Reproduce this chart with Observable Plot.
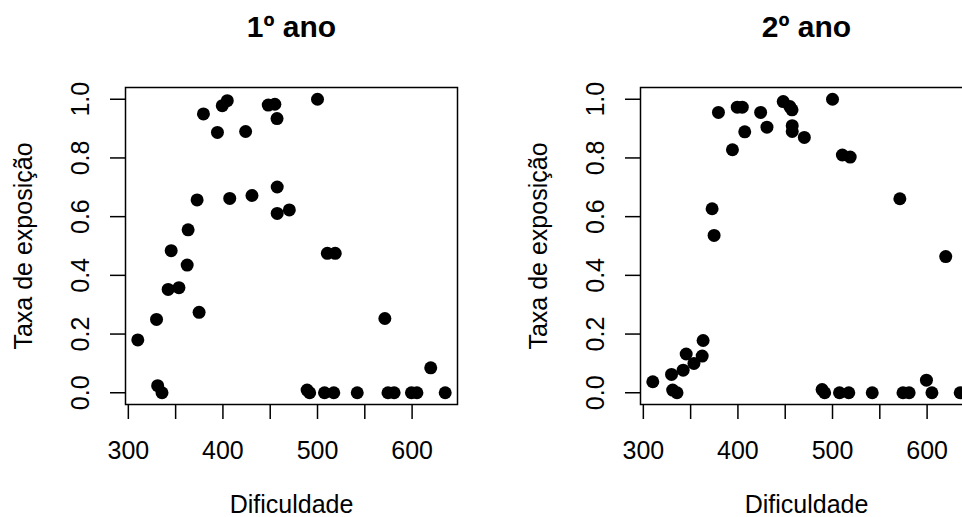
<!DOCTYPE html>
<html>
<head>
<meta charset="utf-8">
<script src="https://cdn.jsdelivr.net/npm/d3@7"></script>
<script src="https://cdn.jsdelivr.net/npm/@observablehq/plot@0.6"></script>
<style>
  html, body { margin: 0; padding: 0; background: #fff; overflow: hidden; }
  #wrap { position: relative; width: 1030px; height: 517px; }
  #wrap svg { position: absolute; top: 0; }
</style>
</head>
<body>
<div id="wrap"></div>
<script>
// Item difficulty (shared by both panels)
const difficulty = [310, 329.8, 331, 335.6, 342.1, 345.3, 353.5, 362.2, 363.2, 372.7,
  374.8, 379.4, 394.2, 399.3, 404.6, 407.2, 424, 430.7, 447.9, 454.9,
  457.2, 457.4, 457.4, 470.2, 489, 491.7, 500, 507.4, 510.4, 517.2,
  518.7, 542, 571.2, 574.5, 581, 599.3, 605.1, 619.7, 635];
// Exposure rate, 1º ano
const rate1 = [0.18, 0.25, 0.024, 0, 0.352, 0.484, 0.358, 0.435, 0.555, 0.657,
  0.274, 0.95, 0.887, 0.978, 0.995, 0.662, 0.89, 0.672, 0.98, 0.983,
  0.934, 0.701, 0.611, 0.623, 0.009, 0, 1.0, 0, 0.475, 0,
  0.475, 0, 0.253, 0, 0, 0, 0, 0.085, 0];
// Exposure rate, 2º ano
const rate2 = [0.0375, 0.0625, 0.009, 0, 0.077, 0.132, 0.1, 0.125, 0.178, 0.627,
  0.536, 0.955, 0.828, 0.973, 0.973, 0.889, 0.955, 0.905, 0.992, 0.975,
  0.964, 0.91, 0.89, 0.87, 0.011, 0, 1.0, 0, 0.81, 0,
  0.803, 0, 0.661, 0, 0, 0.043, 0, 0.464, 0];

const panelTitles = ["1º ano", "2º ano"];
const xLabel = "Dificuldade";
const yLabel = "Taxa de exposição";
const xTicks = [300, 350, 400, 450, 500, 550, 600];
const yTicks = [0, 0.2, 0.4, 0.6, 0.8, 1.0];

function rRange(values) {
  const [a, b] = d3.extent(values);
  const p = (b - a) * 0.04;
  return [a - p, b + p];
}

function panel(title, rates) {
  const data = difficulty.map((d, i) => ({d, r: rates[i]}));
  return Plot.plot({
    width: 515,
    height: 517,
    marginLeft: 125,
    marginRight: 58,
    marginTop: 87,
    marginBottom: 113,
    x: {domain: rRange(difficulty)},
    y: {domain: rRange(rates)},
    style: {fontFamily: "'Liberation Sans', Arial, Helvetica, sans-serif", fontSize: "25px", color: "black", background: "white", overflow: "visible"},
    marks: [
      Plot.axisX({ticks: xTicks, tickSize: 15, tickPadding: 21.5, tickFormat: d => d % 100 === 0 ? String(d) : "", strokeWidth: 1.5, label: null}),
      Plot.axisY({ticks: yTicks, tickSize: 15, tickPadding: 21.5, tickRotate: -90, tickFormat: d => d.toFixed(1), strokeWidth: 1.5, label: null}),
      Plot.frame({stroke: "black", strokeWidth: 1.5}),
      Plot.dot(data, {x: "d", y: "r", r: 6.5, fill: "black"}),
      Plot.text([title], {frameAnchor: "top", lineAnchor: "bottom", dy: -50.5, fontWeight: "bold", fontSize: 30}),
      Plot.text([xLabel], {frameAnchor: "bottom", lineAnchor: "bottom", dy: 108}),
      Plot.text([yLabel], {frameAnchor: "left", rotate: -90, textAnchor: "middle", lineAnchor: "bottom", dx: -94})
    ]
  });
}

const wrap = document.getElementById("wrap");
const p1 = panel(panelTitles[0], rate1);
p1.style.left = "0px";
const p2 = panel(panelTitles[1], rate2);
p2.style.left = "515px";
wrap.append(p1, p2);
</script>
</body>
</html>
